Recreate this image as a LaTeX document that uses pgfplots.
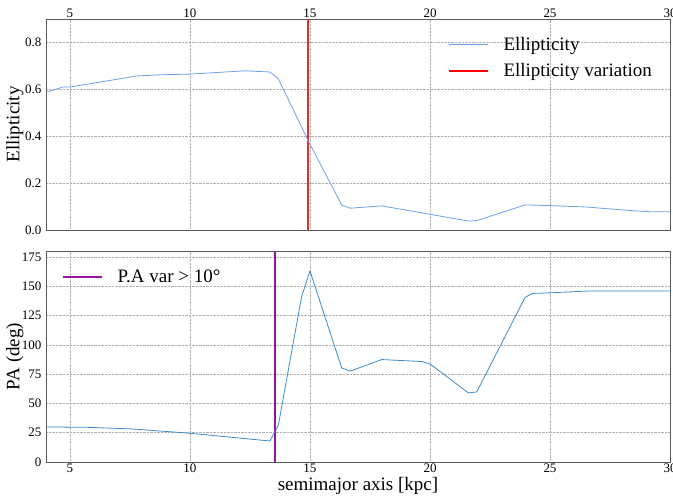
\documentclass[border=0pt]{standalone}
\usepackage{pgfplots}
\pgfplotsset{compat=1.18}
\usepackage{fontspec}
\setmainfont{Liberation Serif}

\definecolor{ellblue}{RGB}{110,160,235}
\definecolor{ellred}{RGB}{240,40,40}
\definecolor{pablue}{RGB}{60,140,205}
\definecolor{pavar}{RGB}{150,20,160}

\pgfplotsset{
  panel/.style={
    width=624pt, height=211pt, scale only axis,
    xmin=4, xmax=30,
    xtick={5,10,15,20,25,30},
    grid=major,
    major grid style={gray!60, densely dotted, line width=0.5pt},
    major tick length=0pt,
    axis line style={gray!70!black, line width=0.6pt},
    tick label style={font=\fontsize{13}{13}\selectfont},
    /pgf/number format/assume math mode=true,
    xticklabel={\pgfmathprintnumber{\tick}},
    label style={font=\fontsize{19}{19}\selectfont},
    y label style={at={(axis description cs:-0.05,0.5)}, anchor=center},
    yticklabel style={xshift=-1pt},
    legend style={draw=none, fill=none, font=\fontsize{19}{19}\selectfont,
      row sep=8pt},
    legend cell align=left,
    legend image code/.code={\draw[##1] (0pt,0pt) -- (39pt,0pt); \path (52pt,0pt);},
  },
}

\begin{document}
\begin{tikzpicture}
% top panel: ellipticity
\begin{axis}[panel, at={(0,232pt)},
  xticklabel pos=upper,
  xticklabel style={yshift=-2pt},
  ymin=0, ymax=0.9,
  ytick={0,0.2,0.4,0.6,0.8},
  yticklabel={\pgfmathprintnumber[fixed, fixed zerofill, precision=1]{\tick}},
  ylabel={Ellipticity},
  legend style={at={(0.6396,0.935)}, anchor=north west},
]
\addplot[ellred, line width=2pt, forget plot] coordinates {(14.9,0) (14.9,0.9)};
\addplot[ellblue, line width=0.8pt] coordinates {
(4.0,0.588) (4.72,0.61) (5.0,0.61) (6.25,0.631) (7.78,0.657) (8.75,0.662)
(10.0,0.665) (12.3,0.679) (13.33,0.674) (13.68,0.645) (14.93,0.38)
(16.32,0.107) (16.67,0.093) (17.99,0.103) (20.0,0.067) (21.6,0.038)
(21.95,0.04) (23.96,0.107) (25.0,0.104) (26.53,0.098) (28.33,0.083)
(29.17,0.078) (30.0,0.078)
};
\addlegendentry{Ellipticity}
\addlegendimage{red, line width=1.2pt}
\addlegendentry{Ellipticity variation}
\end{axis}

% bottom panel: position angle
\begin{axis}[panel, at={(0,0)},
  xticklabel style={yshift=2pt},
  ymin=0, ymax=180,
  ytick={0,25,50,75,100,125,150,175},
  yticklabel={\pgfmathprintnumber{\tick}},
  ylabel={PA (deg)},
  xlabel={semimajor axis [kpc]},
  x label style={at={(axis description cs:0.5,-0.112)}, anchor=center},
  legend style={at={(0.0206,0.93)}, anchor=north west},
]
\addplot[pavar, line width=1.2pt, forget plot] coordinates {(13.54,0) (13.54,180)};
\addplot[pablue, line width=0.8pt, forget plot] coordinates {
(4.0,29.9) (5.7,29.6) (7.6,28.2) (10.0,24.5) (13.33,17.9) (13.68,31.3)
(14.65,141) (15.0,163) (16.32,80.3) (16.67,77.5) (17.99,87.4) (19.65,85.7)
(20.0,83.7) (21.6,58.9) (21.95,59.8) (23.96,140.4) (24.26,143.8)
(25.0,144.3) (26.53,145.8) (30.0,145.8)
};
\addlegendimage{pavar, line width=1.6pt}
\addlegendentry{P.A var > 10°}
\end{axis}
\pgfresetboundingbox
\path[use as bounding box] (-46pt,-36pt) rectangle (627pt,462pt);
\end{tikzpicture}
\end{document}
